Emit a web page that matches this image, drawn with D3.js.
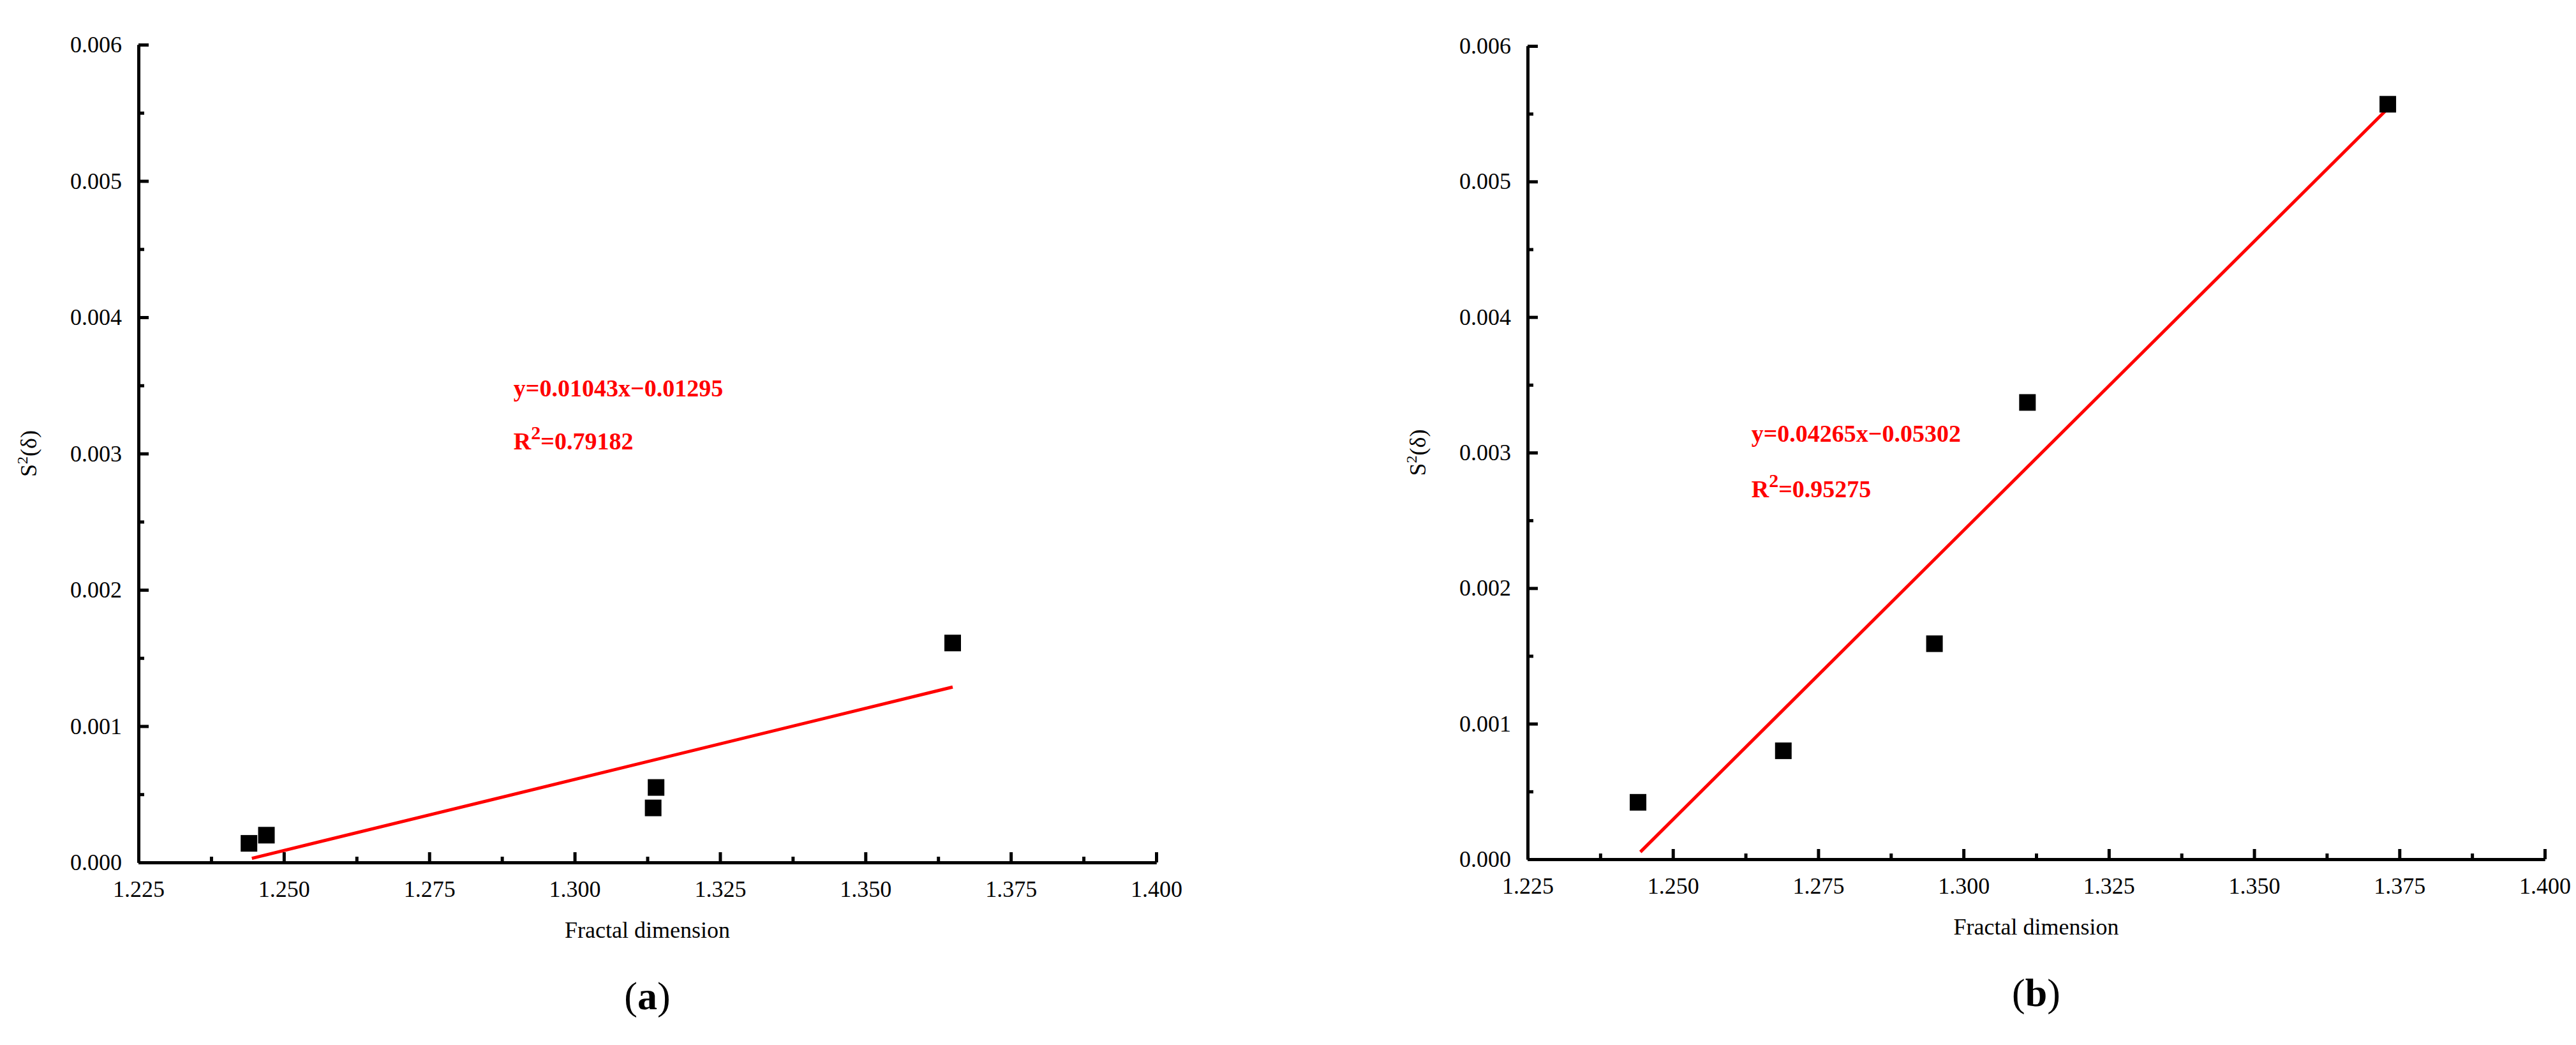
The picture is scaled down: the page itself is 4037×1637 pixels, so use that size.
<!DOCTYPE html>
<html>
<head>
<meta charset="utf-8">
<script src="https://cdn.jsdelivr.net/npm/d3@7"></script>
<style>
  body { margin: 0; background: #fff; }
  text { font-family: "Liberation Serif", "Times New Roman", serif; }
</style>
</head>
<body>
<svg id="chart" width="4037" height="1637"></svg>
<script>
const xTicks = [1.225, 1.25, 1.275, 1.3, 1.325, 1.35, 1.375, 1.4];
const yTicks = [0, 0.001, 0.002, 0.003, 0.004, 0.005, 0.006];

const pointsA = [[1.244, 0.00014], [1.247, 0.0002], [1.3135, 0.0004], [1.314, 0.00055], [1.365, 0.00161]];
const pointsB = [[1.244, 0.00042], [1.269, 0.0008], [1.295, 0.00159], [1.311, 0.00337], [1.373, 0.00557]];
const fitA = { slope: 0.01043, icpt: -0.01295, x0: 1.2445, x1: 1.365, eq: "y=0.01043x\u22120.01295", r2: "=0.79182", pos: [1.2895, 0.00342, 0.00303] };
const fitB = { slope: 0.04265, icpt: -0.05302, x0: 1.2444, x1: 1.373, eq: "y=0.04265x\u22120.05302", r2: "=0.95275", pos: [1.2635, 0.00308, 0.00267] };

const svg = d3.select("#chart");

function panel(left, right, top, bottom, pts, fit, tag) {
  const x = d3.scaleLinear().domain([1.225, 1.4]).range([left, right]);
  const y = d3.scaleLinear().domain([0, 0.006]).range([bottom, top]);
  const g = svg.append("g");

  const xAxis = d3.axisBottom(x).tickValues(xTicks).tickFormat(d3.format(".3f")).tickSizeInner(-16).tickSizeOuter(0).tickPadding(28);
  const xMinor = d3.axisBottom(x).tickValues(d3.range(1.2375, 1.4, 0.025)).tickFormat("").tickSizeInner(-9).tickSizeOuter(0);
  const yAxis = d3.axisLeft(y).tickValues(yTicks).tickFormat(d3.format(".3f")).tickSizeInner(-16).tickSizeOuter(0).tickPadding(26);
  const yMinor = d3.axisLeft(y).tickValues(d3.range(0.0005, 0.006, 0.001)).tickFormat("").tickSizeInner(-9).tickSizeOuter(0);

  [[xAxis, "x"], [xMinor, "x"], [yAxis, "y"], [yMinor, "y"]].forEach(([ax, k]) => {
    const a = g.append("g").attr("transform", k === "x" ? `translate(0,${bottom})` : `translate(${left},0)`).call(ax);
    a.selectAll("path, line").attr("stroke", "#000").attr("stroke-width", 5);
    a.selectAll("text").attr("font-size", 36).attr("fill", "#000");
  });

  g.append("line")
    .attr("x1", x(fit.x0)).attr("y1", y(fit.slope * fit.x0 + fit.icpt))
    .attr("x2", x(fit.x1)).attr("y2", y(fit.slope * fit.x1 + fit.icpt))
    .attr("stroke", "#ff0000").attr("stroke-width", 5);

  g.selectAll("rect.pt").data(pts).enter().append("rect")
    .attr("x", d => x(d[0]) - 13).attr("y", d => y(d[1]) - 13)
    .attr("width", 26).attr("height", 26).attr("fill", "#000");

  g.append("text").attr("x", x(fit.pos[0])).attr("y", y(fit.pos[1]))
    .attr("font-size", 38).attr("font-weight", "bold").attr("fill", "#ff0000").text(fit.eq);
  const r = g.append("text").attr("x", x(fit.pos[0])).attr("y", y(fit.pos[2]))
    .attr("font-size", 38).attr("font-weight", "bold").attr("fill", "#ff0000");
  r.append("tspan").text("R");
  r.append("tspan").attr("dy", -16).attr("font-size", 30).text("2");
  r.append("tspan").attr("dy", 16).text(fit.r2);

  const cx = (left + right) / 2;
  g.append("text").attr("x", cx).attr("y", bottom + 118).attr("text-anchor", "middle")
    .attr("font-size", 36).text("Fractal dimension");
  const yl = g.append("text").attr("transform", `translate(${left - 160},${(top + bottom) / 2}) rotate(-90)`)
    .attr("text-anchor", "middle").attr("font-size", 36);
  yl.append("tspan").text("S");
  yl.append("tspan").attr("dy", -14).attr("font-size", 24).text("2");
  yl.append("tspan").attr("dy", 14).text("(\u03b4)");

  const t = g.append("text").attr("x", cx).attr("y", bottom + 230).attr("text-anchor", "middle").attr("font-size", 62);
  t.append("tspan").text("(");
  t.append("tspan").attr("font-weight", "bold").text(tag);
  t.append("tspan").text(")");
}

panel(217, 1812, 70, 1351, pointsA, fitA, "a");
panel(2394, 3988, 72, 1346, pointsB, fitB, "b");
</script>
</body>
</html>
